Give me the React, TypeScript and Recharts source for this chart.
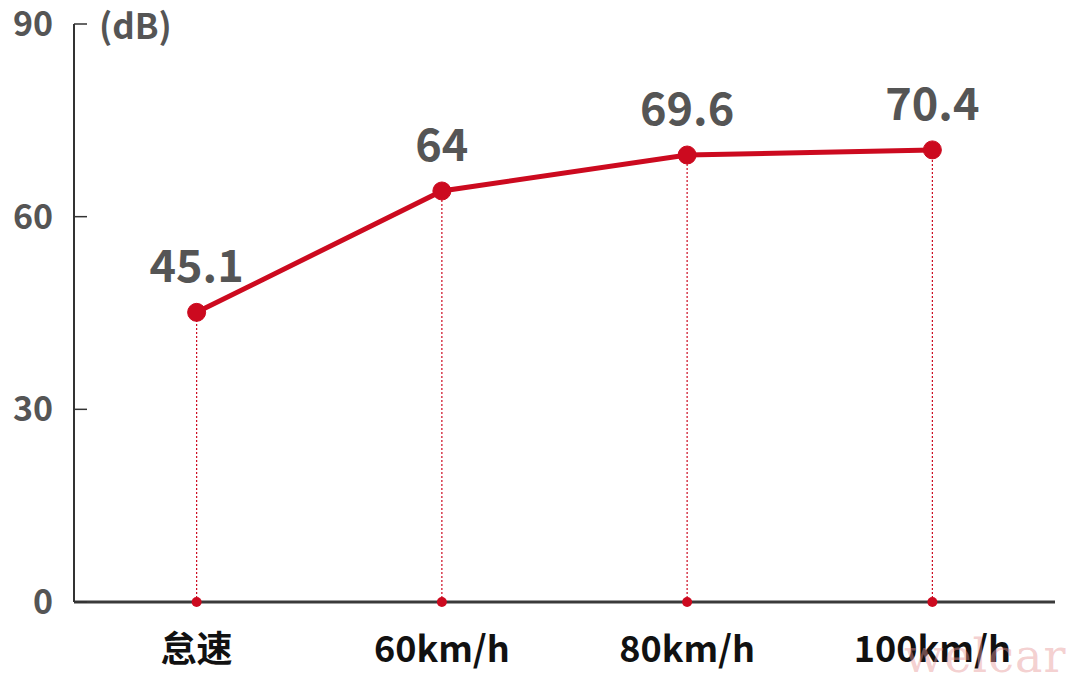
import React from 'react';
import { LineChart, Line, XAxis, YAxis, ReferenceLine, ReferenceDot, LabelList } from 'recharts';

const categories = ['怠速', '60km/h', '80km/h', '100km/h'];
const noiseValues = [45.1, 64, 69.6, 70.4];
const yTicks = [0, 30, 60, 90];

const data = categories.map((c, i) => ({ name: c, value: noiseValues[i] }));

const FONT = '"Noto Sans CJK SC", "Noto Sans", sans-serif';
const RED = '#cc0a1f';

const YTick = (props: any) => {
  const { x, y, payload } = props;
  return (
    <g>
      <line x1={x} y1={y} x2={x + 13} y2={y} stroke="#333" strokeWidth={1.5} />
      <text x={x - 21} y={y + 12} textAnchor="end" fontFamily={FONT} fontWeight={700} fontSize={34} fill="#555">
        {payload.value}
      </text>
    </g>
  );
};

const XTick = (props: any) => {
  const { x, y, payload } = props;
  return (
    <text x={x} y={y + 60} textAnchor="middle" fontFamily={FONT} fontWeight={700} fontSize={36} fill="#111">
      {payload.value}
    </text>
  );
};

const ValueLabel = (props: any) => {
  const { x, y, value } = props;
  return (
    <text x={x} y={y - 30} textAnchor="middle" fontFamily={FONT} fontWeight={700} fontSize={45} fill="#555">
      {value}
    </text>
  );
};

export default function App() {
  return (
    <div style={{ position: 'absolute', left: 0, top: 0, width: 1080, height: 689, background: '#fff', overflow: 'hidden' }}>
      <LineChart width={1080} height={689} data={data} margin={{ top: 24, right: 25, bottom: 0, left: 0 }}>
        {data.map((d) => (
          <ReferenceLine
            key={'rl' + d.name}
            segment={[{ x: d.name, y: 0 }, { x: d.name, y: d.value }]}
            stroke={RED}
            strokeWidth={1.2}
            strokeDasharray="2 2"
            ifOverflow="visible"
          />
        ))}
        {data.map((d) => (
          <ReferenceDot key={'rd' + d.name} x={d.name} y={0} r={5} fill={RED} stroke="none" ifOverflow="visible" />
        ))}
        <XAxis
          dataKey="name"
          scale="band"
          height={87}
          axisLine={{ stroke: '#3a3a3a', strokeWidth: 3 }}
          tickLine={false}
          tickSize={0}
          tickMargin={0}
          tick={<XTick />}
          interval={0}
        />
        <YAxis
          width={74}
          domain={[0, 90]}
          ticks={yTicks}
          axisLine={{ stroke: '#333', strokeWidth: 2 }}
          tickLine={false}
          tickSize={0}
          tickMargin={0}
          tick={<YTick />}
        />
        <Line
          type="linear"
          dataKey="value"
          stroke={RED}
          strokeWidth={5}
          dot={{ r: 9, fill: RED, stroke: RED, strokeWidth: 1 }}
          activeDot={false}
          isAnimationActive={false}
        >
          <LabelList dataKey="value" content={<ValueLabel />} />
        </Line>
      </LineChart>
      <div style={{ position: 'absolute', left: 99, top: 2, fontFamily: FONT, fontWeight: 700, fontSize: 35, color: '#555', lineHeight: '44px' }}>
        (dB)
      </div>
      <div style={{ position: 'absolute', left: 904, top: 628, fontFamily: '"DejaVu Serif", "Liberation Serif", serif', fontSize: 46, color: 'rgba(230,150,150,0.45)', lineHeight: '56px', letterSpacing: 1 }}>
        welcar
      </div>
    </div>
  );
}
